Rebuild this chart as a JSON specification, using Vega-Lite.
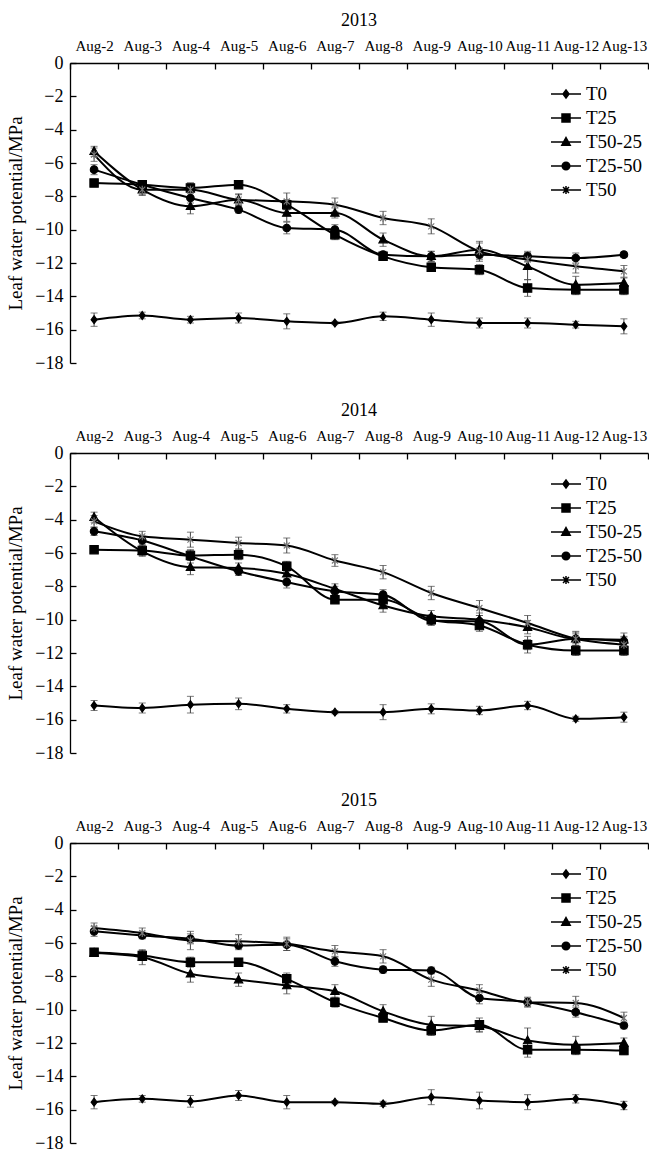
{
"$schema": "https://vega.github.io/schema/vega-lite/v6.json",
"padding": {"left": 6, "top": 12, "right": 0, "bottom": 0},
"background": "white",
"datasets": {"d": [
{"year":2013,"date":"Aug-2","series":"T0","value":-15.4,"err":0.4},{"year":2013,"date":"Aug-3","series":"T0","value":-15.15,"err":0.2},{"year":2013,"date":"Aug-4","series":"T0","value":-15.4,"err":0.2},{"year":2013,"date":"Aug-5","series":"T0","value":-15.3,"err":0.3},{"year":2013,"date":"Aug-6","series":"T0","value":-15.5,"err":0.45},{"year":2013,"date":"Aug-7","series":"T0","value":-15.6,"err":0.1},{"year":2013,"date":"Aug-8","series":"T0","value":-15.2,"err":0.25},{"year":2013,"date":"Aug-9","series":"T0","value":-15.4,"err":0.4},{"year":2013,"date":"Aug-10","series":"T0","value":-15.6,"err":0.3},{"year":2013,"date":"Aug-11","series":"T0","value":-15.6,"err":0.3},{"year":2013,"date":"Aug-12","series":"T0","value":-15.7,"err":0.2},{"year":2013,"date":"Aug-13","series":"T0","value":-15.8,"err":0.45},
{"year":2013,"date":"Aug-2","series":"T25","value":-7.2,"err":0.15},{"year":2013,"date":"Aug-3","series":"T25","value":-7.3,"err":0.25},{"year":2013,"date":"Aug-4","series":"T25","value":-7.5,"err":0.3},{"year":2013,"date":"Aug-5","series":"T25","value":-7.3,"err":0.2},{"year":2013,"date":"Aug-6","series":"T25","value":-8.5,"err":0.3},{"year":2013,"date":"Aug-7","series":"T25","value":-10.3,"err":0.3},{"year":2013,"date":"Aug-8","series":"T25","value":-11.6,"err":0.2},{"year":2013,"date":"Aug-9","series":"T25","value":-12.25,"err":0.25},{"year":2013,"date":"Aug-10","series":"T25","value":-12.4,"err":0.3},{"year":2013,"date":"Aug-11","series":"T25","value":-13.5,"err":0.5},{"year":2013,"date":"Aug-12","series":"T25","value":-13.6,"err":0.3},{"year":2013,"date":"Aug-13","series":"T25","value":-13.6,"err":0.3},
{"year":2013,"date":"Aug-2","series":"T50-25","value":-5.3,"err":0.3},{"year":2013,"date":"Aug-3","series":"T50-25","value":-7.6,"err":0.3},{"year":2013,"date":"Aug-4","series":"T50-25","value":-8.6,"err":0.45},{"year":2013,"date":"Aug-5","series":"T50-25","value":-8.2,"err":0.3},{"year":2013,"date":"Aug-6","series":"T50-25","value":-9.0,"err":0.5},{"year":2013,"date":"Aug-7","series":"T50-25","value":-9.0,"err":0.3},{"year":2013,"date":"Aug-8","series":"T50-25","value":-10.6,"err":0.4},{"year":2013,"date":"Aug-9","series":"T50-25","value":-11.6,"err":0.3},{"year":2013,"date":"Aug-10","series":"T50-25","value":-11.2,"err":0.5},{"year":2013,"date":"Aug-11","series":"T50-25","value":-12.2,"err":0.8},{"year":2013,"date":"Aug-12","series":"T50-25","value":-13.3,"err":0.5},{"year":2013,"date":"Aug-13","series":"T50-25","value":-13.2,"err":0.3},
{"year":2013,"date":"Aug-2","series":"T25-50","value":-6.4,"err":0.3},{"year":2013,"date":"Aug-3","series":"T25-50","value":-7.3,"err":0.25},{"year":2013,"date":"Aug-4","series":"T25-50","value":-8.1,"err":0.3},{"year":2013,"date":"Aug-5","series":"T25-50","value":-8.8,"err":0.2},{"year":2013,"date":"Aug-6","series":"T25-50","value":-9.9,"err":0.35},{"year":2013,"date":"Aug-7","series":"T25-50","value":-10.0,"err":0.3},{"year":2013,"date":"Aug-8","series":"T25-50","value":-11.5,"err":0.2},{"year":2013,"date":"Aug-9","series":"T25-50","value":-11.6,"err":0.3},{"year":2013,"date":"Aug-10","series":"T25-50","value":-11.5,"err":0.4},{"year":2013,"date":"Aug-11","series":"T25-50","value":-11.6,"err":0.3},{"year":2013,"date":"Aug-12","series":"T25-50","value":-11.7,"err":0.3},{"year":2013,"date":"Aug-13","series":"T25-50","value":-11.5,"err":0.15},
{"year":2013,"date":"Aug-2","series":"T50","value":-5.5,"err":0.4},{"year":2013,"date":"Aug-3","series":"T50","value":-7.6,"err":0.35},{"year":2013,"date":"Aug-4","series":"T50","value":-7.6,"err":0.4},{"year":2013,"date":"Aug-5","series":"T50","value":-8.2,"err":0.35},{"year":2013,"date":"Aug-6","series":"T50","value":-8.3,"err":0.5},{"year":2013,"date":"Aug-7","series":"T50","value":-8.5,"err":0.4},{"year":2013,"date":"Aug-8","series":"T50","value":-9.3,"err":0.4},{"year":2013,"date":"Aug-9","series":"T50","value":-9.8,"err":0.45},{"year":2013,"date":"Aug-10","series":"T50","value":-11.3,"err":0.5},{"year":2013,"date":"Aug-11","series":"T50","value":-11.8,"err":0.4},{"year":2013,"date":"Aug-12","series":"T50","value":-12.2,"err":0.4},{"year":2013,"date":"Aug-13","series":"T50","value":-12.5,"err":0.35},
{"year":2014,"date":"Aug-2","series":"T0","value":-15.15,"err":0.3},{"year":2014,"date":"Aug-3","series":"T0","value":-15.3,"err":0.3},{"year":2014,"date":"Aug-4","series":"T0","value":-15.1,"err":0.5},{"year":2014,"date":"Aug-5","series":"T0","value":-15.05,"err":0.35},{"year":2014,"date":"Aug-6","series":"T0","value":-15.35,"err":0.25},{"year":2014,"date":"Aug-7","series":"T0","value":-15.55,"err":0.1},{"year":2014,"date":"Aug-8","series":"T0","value":-15.55,"err":0.45},{"year":2014,"date":"Aug-9","series":"T0","value":-15.35,"err":0.3},{"year":2014,"date":"Aug-10","series":"T0","value":-15.45,"err":0.25},{"year":2014,"date":"Aug-11","series":"T0","value":-15.15,"err":0.25},{"year":2014,"date":"Aug-12","series":"T0","value":-15.95,"err":0.15},{"year":2014,"date":"Aug-13","series":"T0","value":-15.85,"err":0.3},
{"year":2014,"date":"Aug-2","series":"T25","value":-5.8,"err":0.15},{"year":2014,"date":"Aug-3","series":"T25","value":-5.85,"err":0.3},{"year":2014,"date":"Aug-4","series":"T25","value":-6.15,"err":0.3},{"year":2014,"date":"Aug-5","series":"T25","value":-6.1,"err":0.3},{"year":2014,"date":"Aug-6","series":"T25","value":-6.8,"err":0.3},{"year":2014,"date":"Aug-7","series":"T25","value":-8.8,"err":0.2},{"year":2014,"date":"Aug-8","series":"T25","value":-8.8,"err":0.35},{"year":2014,"date":"Aug-9","series":"T25","value":-10.0,"err":0.3},{"year":2014,"date":"Aug-10","series":"T25","value":-10.35,"err":0.35},{"year":2014,"date":"Aug-11","series":"T25","value":-11.5,"err":0.5},{"year":2014,"date":"Aug-12","series":"T25","value":-11.85,"err":0.3},{"year":2014,"date":"Aug-13","series":"T25","value":-11.85,"err":0.3},
{"year":2014,"date":"Aug-2","series":"T50-25","value":-3.85,"err":0.3},{"year":2014,"date":"Aug-3","series":"T50-25","value":-5.9,"err":0.3},{"year":2014,"date":"Aug-4","series":"T50-25","value":-6.85,"err":0.45},{"year":2014,"date":"Aug-5","series":"T50-25","value":-6.9,"err":0.3},{"year":2014,"date":"Aug-6","series":"T50-25","value":-7.25,"err":0.3},{"year":2014,"date":"Aug-7","series":"T50-25","value":-8.15,"err":0.3},{"year":2014,"date":"Aug-8","series":"T50-25","value":-9.15,"err":0.4},{"year":2014,"date":"Aug-9","series":"T50-25","value":-9.8,"err":0.35},{"year":2014,"date":"Aug-10","series":"T50-25","value":-10.0,"err":0.4},{"year":2014,"date":"Aug-11","series":"T50-25","value":-10.45,"err":0.4},{"year":2014,"date":"Aug-12","series":"T50-25","value":-11.15,"err":0.4},{"year":2014,"date":"Aug-13","series":"T50-25","value":-11.2,"err":0.4},
{"year":2014,"date":"Aug-2","series":"T25-50","value":-4.7,"err":0.25},{"year":2014,"date":"Aug-3","series":"T25-50","value":-5.25,"err":0.25},{"year":2014,"date":"Aug-4","series":"T25-50","value":-6.2,"err":0.4},{"year":2014,"date":"Aug-5","series":"T25-50","value":-7.1,"err":0.25},{"year":2014,"date":"Aug-6","series":"T25-50","value":-7.75,"err":0.35},{"year":2014,"date":"Aug-7","series":"T25-50","value":-8.3,"err":0.3},{"year":2014,"date":"Aug-8","series":"T25-50","value":-8.5,"err":0.3},{"year":2014,"date":"Aug-9","series":"T25-50","value":-10.05,"err":0.3},{"year":2014,"date":"Aug-10","series":"T25-50","value":-10.1,"err":0.35},{"year":2014,"date":"Aug-11","series":"T25-50","value":-11.5,"err":0.3},{"year":2014,"date":"Aug-12","series":"T25-50","value":-11.15,"err":0.3},{"year":2014,"date":"Aug-13","series":"T25-50","value":-11.3,"err":0.3},
{"year":2014,"date":"Aug-2","series":"T50","value":-4.1,"err":0.35},{"year":2014,"date":"Aug-3","series":"T50","value":-5.0,"err":0.3},{"year":2014,"date":"Aug-4","series":"T50","value":-5.2,"err":0.45},{"year":2014,"date":"Aug-5","series":"T50","value":-5.4,"err":0.35},{"year":2014,"date":"Aug-6","series":"T50","value":-5.55,"err":0.45},{"year":2014,"date":"Aug-7","series":"T50","value":-6.45,"err":0.35},{"year":2014,"date":"Aug-8","series":"T50","value":-7.15,"err":0.4},{"year":2014,"date":"Aug-9","series":"T50","value":-8.4,"err":0.4},{"year":2014,"date":"Aug-10","series":"T50","value":-9.3,"err":0.45},{"year":2014,"date":"Aug-11","series":"T50","value":-10.2,"err":0.45},{"year":2014,"date":"Aug-12","series":"T50","value":-11.15,"err":0.45},{"year":2014,"date":"Aug-13","series":"T50","value":-11.5,"err":0.45},
{"year":2015,"date":"Aug-2","series":"T0","value":-15.55,"err":0.4},{"year":2015,"date":"Aug-3","series":"T0","value":-15.35,"err":0.2},{"year":2015,"date":"Aug-4","series":"T0","value":-15.5,"err":0.35},{"year":2015,"date":"Aug-5","series":"T0","value":-15.15,"err":0.3},{"year":2015,"date":"Aug-6","series":"T0","value":-15.55,"err":0.4},{"year":2015,"date":"Aug-7","series":"T0","value":-15.55,"err":0.1},{"year":2015,"date":"Aug-8","series":"T0","value":-15.65,"err":0.15},{"year":2015,"date":"Aug-9","series":"T0","value":-15.25,"err":0.45},{"year":2015,"date":"Aug-10","series":"T0","value":-15.45,"err":0.5},{"year":2015,"date":"Aug-11","series":"T0","value":-15.55,"err":0.45},{"year":2015,"date":"Aug-12","series":"T0","value":-15.35,"err":0.25},{"year":2015,"date":"Aug-13","series":"T0","value":-15.75,"err":0.25},
{"year":2015,"date":"Aug-2","series":"T25","value":-6.55,"err":0.2},{"year":2015,"date":"Aug-3","series":"T25","value":-6.75,"err":0.3},{"year":2015,"date":"Aug-4","series":"T25","value":-7.15,"err":0.3},{"year":2015,"date":"Aug-5","series":"T25","value":-7.15,"err":0.2},{"year":2015,"date":"Aug-6","series":"T25","value":-8.15,"err":0.35},{"year":2015,"date":"Aug-7","series":"T25","value":-9.55,"err":0.3},{"year":2015,"date":"Aug-8","series":"T25","value":-10.5,"err":0.2},{"year":2015,"date":"Aug-9","series":"T25","value":-11.25,"err":0.3},{"year":2015,"date":"Aug-10","series":"T25","value":-10.9,"err":0.4},{"year":2015,"date":"Aug-11","series":"T25","value":-12.4,"err":0.45},{"year":2015,"date":"Aug-12","series":"T25","value":-12.4,"err":0.3},{"year":2015,"date":"Aug-13","series":"T25","value":-12.45,"err":0.25},
{"year":2015,"date":"Aug-2","series":"T50-25","value":-6.6,"err":0.2},{"year":2015,"date":"Aug-3","series":"T50-25","value":-6.85,"err":0.45},{"year":2015,"date":"Aug-4","series":"T50-25","value":-7.85,"err":0.5},{"year":2015,"date":"Aug-5","series":"T50-25","value":-8.2,"err":0.4},{"year":2015,"date":"Aug-6","series":"T50-25","value":-8.55,"err":0.5},{"year":2015,"date":"Aug-7","series":"T50-25","value":-8.9,"err":0.4},{"year":2015,"date":"Aug-8","series":"T50-25","value":-10.1,"err":0.4},{"year":2015,"date":"Aug-9","series":"T50-25","value":-10.9,"err":0.5},{"year":2015,"date":"Aug-10","series":"T50-25","value":-11.0,"err":0.35},{"year":2015,"date":"Aug-11","series":"T50-25","value":-11.85,"err":0.75},{"year":2015,"date":"Aug-12","series":"T50-25","value":-12.1,"err":0.5},{"year":2015,"date":"Aug-13","series":"T50-25","value":-12.0,"err":0.3},
{"year":2015,"date":"Aug-2","series":"T25-50","value":-5.3,"err":0.3},{"year":2015,"date":"Aug-3","series":"T25-50","value":-5.55,"err":0.2},{"year":2015,"date":"Aug-4","series":"T25-50","value":-5.75,"err":0.3},{"year":2015,"date":"Aug-5","series":"T25-50","value":-6.15,"err":0.25},{"year":2015,"date":"Aug-6","series":"T25-50","value":-6.1,"err":0.35},{"year":2015,"date":"Aug-7","series":"T25-50","value":-7.1,"err":0.3},{"year":2015,"date":"Aug-8","series":"T25-50","value":-7.6,"err":0.2},{"year":2015,"date":"Aug-9","series":"T25-50","value":-7.65,"err":0.2},{"year":2015,"date":"Aug-10","series":"T25-50","value":-9.3,"err":0.35},{"year":2015,"date":"Aug-11","series":"T25-50","value":-9.55,"err":0.3},{"year":2015,"date":"Aug-12","series":"T25-50","value":-10.15,"err":0.3},{"year":2015,"date":"Aug-13","series":"T25-50","value":-10.95,"err":0.2},
{"year":2015,"date":"Aug-2","series":"T50","value":-5.1,"err":0.3},{"year":2015,"date":"Aug-3","series":"T50","value":-5.4,"err":0.3},{"year":2015,"date":"Aug-4","series":"T50","value":-5.85,"err":0.55},{"year":2015,"date":"Aug-5","series":"T50","value":-5.9,"err":0.4},{"year":2015,"date":"Aug-6","series":"T50","value":-6.05,"err":0.4},{"year":2015,"date":"Aug-7","series":"T50","value":-6.5,"err":0.35},{"year":2015,"date":"Aug-8","series":"T50","value":-6.8,"err":0.4},{"year":2015,"date":"Aug-9","series":"T50","value":-8.2,"err":0.4},{"year":2015,"date":"Aug-10","series":"T50","value":-8.85,"err":0.35},{"year":2015,"date":"Aug-11","series":"T50","value":-9.55,"err":0.25},{"year":2015,"date":"Aug-12","series":"T50","value":-9.6,"err":0.4},{"year":2015,"date":"Aug-13","series":"T50","value":-10.5,"err":0.35}
]},
"spacing": 30,
"resolve": {"scale": {"shape": "independent", "x": "independent", "y": "independent"}, "legend": {"shape": "independent"}},
"vconcat": [
{"title": "2013", "width": 578, "height": 300, "data": {"name": "d"}, "transform": [{"filter": "datum.year == 2013"}],
 "resolve": {"scale": {"shape": "independent"}},
 "encoding": {
  "x": {"field": "date", "type": "nominal", "sort": ["Aug-2","Aug-3","Aug-4","Aug-5","Aug-6","Aug-7","Aug-8","Aug-9","Aug-10","Aug-11","Aug-12","Aug-13"], "scale": {"type": "band", "paddingInner": 0, "paddingOuter": 0}, "axis": {"orient": "top", "title": null, "tickBand": "extent", "labelAngle": 0, "labelFontSize": 15, "labelPadding": 16}},
  "y": {"field": "value", "type": "quantitative", "scale": {"domain": [-18, 0], "nice": false, "zero": false}, "axis": {"title": "Leaf water potential/MPa", "values": [0,-2,-4,-6,-8,-10,-12,-14,-16,-18], "labelFontSize": 18, "labelPadding": 13, "titleFontSize": 19, "titlePadding": 9, "titleFontWeight": "normal"}}
 },
 "layer": [
  {"mark": {"type": "errorbar", "ticks": {"size": 7, "color": "#444", "thickness": 1}, "rule": {"color": "#444", "strokeWidth": 1}}, "encoding": {"yError": {"field": "err"}, "detail": {"field": "series"}}},
  {"mark": {"type": "line", "interpolate": "monotone", "color": "black", "strokeWidth": 2}, "encoding": {"detail": {"field": "series"}}},
  {"mark": {"type": "point", "filled": true, "fill": "black", "size": 400, "strokeWidth": 1.1, "opacity": 1},
   "encoding": {
    "shape": {"field": "series", "type": "nominal", "legend": null, "scale": {"domain": ["T0","T25","T50-25","T25-50","T50"], "range": ["M0,-0.4L0.3,0L0,0.4L-0.3,0Z","M-0.42,-0.42H0.42V0.42H-0.42Z","M0,-0.45L0.42,0.32H-0.42Z","M-0.38,0A0.38,0.38,0,1,1,0.38,0A0.38,0.38,0,1,1,-0.38,0Z","M-0.3,-0.3L0.3,0.3M-0.3,0.3L0.3,-0.3M0,-0.4V0.4"]}},
    "stroke": {"condition": {"test": "datum.series === 'T50'", "value": "#777"}, "value": "black"}
   }},
  {"transform": [{"filter": "false"}],
   "mark": {"type": "point", "filled": false, "fill": "black", "stroke": "black", "strokeWidth": 1.6, "size": 400, "opacity": 1},
   "encoding": {"shape": {"field": "series", "type": "nominal", "scale": {"domain": ["T0","T25","T50-25","T25-50","T50"], "range": ["M-1.5,0H1.5M0,-0.4L0.3,0L0,0.4L-0.3,0Z","M-1.5,0H1.5M-0.4,-0.4H0.4V0.4H-0.4Z","M-1.5,0H1.5M0,-0.45L0.42,0.32H-0.42Z","M-1.5,0H1.5M-0.38,0A0.38,0.38,0,1,1,0.38,0A0.38,0.38,0,1,1,-0.38,0Z","M-1.5,0H1.5M-0.3,-0.3L0.3,0.3M-0.3,0.3L0.3,-0.3M0,-0.4V0.4"]}, "legend": {"orient": "none", "legendX": 485, "legendY": 20}}}}
 ]},
{"title": "2014", "width": 578, "height": 300, "data": {"name": "d"}, "transform": [{"filter": "datum.year == 2014"}],
 "resolve": {"scale": {"shape": "independent"}},
 "encoding": {
  "x": {"field": "date", "type": "nominal", "sort": ["Aug-2","Aug-3","Aug-4","Aug-5","Aug-6","Aug-7","Aug-8","Aug-9","Aug-10","Aug-11","Aug-12","Aug-13"], "scale": {"type": "band", "paddingInner": 0, "paddingOuter": 0}, "axis": {"orient": "top", "title": null, "tickBand": "extent", "labelAngle": 0, "labelFontSize": 15, "labelPadding": 16}},
  "y": {"field": "value", "type": "quantitative", "scale": {"domain": [-18, 0], "nice": false, "zero": false}, "axis": {"title": "Leaf water potential/MPa", "values": [0,-2,-4,-6,-8,-10,-12,-14,-16,-18], "labelFontSize": 18, "labelPadding": 13, "titleFontSize": 19, "titlePadding": 9, "titleFontWeight": "normal"}}
 },
 "layer": [
  {"mark": {"type": "errorbar", "ticks": {"size": 7, "color": "#444", "thickness": 1}, "rule": {"color": "#444", "strokeWidth": 1}}, "encoding": {"yError": {"field": "err"}, "detail": {"field": "series"}}},
  {"mark": {"type": "line", "interpolate": "monotone", "color": "black", "strokeWidth": 2}, "encoding": {"detail": {"field": "series"}}},
  {"mark": {"type": "point", "filled": true, "fill": "black", "size": 400, "strokeWidth": 1.1, "opacity": 1},
   "encoding": {
    "shape": {"field": "series", "type": "nominal", "legend": null, "scale": {"domain": ["T0","T25","T50-25","T25-50","T50"], "range": ["M0,-0.4L0.3,0L0,0.4L-0.3,0Z","M-0.42,-0.42H0.42V0.42H-0.42Z","M0,-0.45L0.42,0.32H-0.42Z","M-0.38,0A0.38,0.38,0,1,1,0.38,0A0.38,0.38,0,1,1,-0.38,0Z","M-0.3,-0.3L0.3,0.3M-0.3,0.3L0.3,-0.3M0,-0.4V0.4"]}},
    "stroke": {"condition": {"test": "datum.series === 'T50'", "value": "#777"}, "value": "black"}
   }},
  {"transform": [{"filter": "false"}],
   "mark": {"type": "point", "filled": false, "fill": "black", "stroke": "black", "strokeWidth": 1.6, "size": 400, "opacity": 1},
   "encoding": {"shape": {"field": "series", "type": "nominal", "scale": {"domain": ["T0","T25","T50-25","T25-50","T50"], "range": ["M-1.5,0H1.5M0,-0.4L0.3,0L0,0.4L-0.3,0Z","M-1.5,0H1.5M-0.4,-0.4H0.4V0.4H-0.4Z","M-1.5,0H1.5M0,-0.45L0.42,0.32H-0.42Z","M-1.5,0H1.5M-0.38,0A0.38,0.38,0,1,1,0.38,0A0.38,0.38,0,1,1,-0.38,0Z","M-1.5,0H1.5M-0.3,-0.3L0.3,0.3M-0.3,0.3L0.3,-0.3M0,-0.4V0.4"]}, "legend": {"orient": "none", "legendX": 485, "legendY": 20}}}}
 ]},
{"title": "2015", "width": 578, "height": 300, "data": {"name": "d"}, "transform": [{"filter": "datum.year == 2015"}],
 "resolve": {"scale": {"shape": "independent"}},
 "encoding": {
  "x": {"field": "date", "type": "nominal", "sort": ["Aug-2","Aug-3","Aug-4","Aug-5","Aug-6","Aug-7","Aug-8","Aug-9","Aug-10","Aug-11","Aug-12","Aug-13"], "scale": {"type": "band", "paddingInner": 0, "paddingOuter": 0}, "axis": {"orient": "top", "title": null, "tickBand": "extent", "labelAngle": 0, "labelFontSize": 15, "labelPadding": 16}},
  "y": {"field": "value", "type": "quantitative", "scale": {"domain": [-18, 0], "nice": false, "zero": false}, "axis": {"title": "Leaf water potential/MPa", "values": [0,-2,-4,-6,-8,-10,-12,-14,-16,-18], "labelFontSize": 18, "labelPadding": 13, "titleFontSize": 19, "titlePadding": 9, "titleFontWeight": "normal"}}
 },
 "layer": [
  {"mark": {"type": "errorbar", "ticks": {"size": 7, "color": "#444", "thickness": 1}, "rule": {"color": "#444", "strokeWidth": 1}}, "encoding": {"yError": {"field": "err"}, "detail": {"field": "series"}}},
  {"mark": {"type": "line", "interpolate": "monotone", "color": "black", "strokeWidth": 2}, "encoding": {"detail": {"field": "series"}}},
  {"mark": {"type": "point", "filled": true, "fill": "black", "size": 400, "strokeWidth": 1.1, "opacity": 1},
   "encoding": {
    "shape": {"field": "series", "type": "nominal", "legend": null, "scale": {"domain": ["T0","T25","T50-25","T25-50","T50"], "range": ["M0,-0.4L0.3,0L0,0.4L-0.3,0Z","M-0.42,-0.42H0.42V0.42H-0.42Z","M0,-0.45L0.42,0.32H-0.42Z","M-0.38,0A0.38,0.38,0,1,1,0.38,0A0.38,0.38,0,1,1,-0.38,0Z","M-0.3,-0.3L0.3,0.3M-0.3,0.3L0.3,-0.3M0,-0.4V0.4"]}},
    "stroke": {"condition": {"test": "datum.series === 'T50'", "value": "#777"}, "value": "black"}
   }},
  {"transform": [{"filter": "false"}],
   "mark": {"type": "point", "filled": false, "fill": "black", "stroke": "black", "strokeWidth": 1.6, "size": 400, "opacity": 1},
   "encoding": {"shape": {"field": "series", "type": "nominal", "scale": {"domain": ["T0","T25","T50-25","T25-50","T50"], "range": ["M-1.5,0H1.5M0,-0.4L0.3,0L0,0.4L-0.3,0Z","M-1.5,0H1.5M-0.4,-0.4H0.4V0.4H-0.4Z","M-1.5,0H1.5M0,-0.45L0.42,0.32H-0.42Z","M-1.5,0H1.5M-0.38,0A0.38,0.38,0,1,1,0.38,0A0.38,0.38,0,1,1,-0.38,0Z","M-1.5,0H1.5M-0.3,-0.3L0.3,0.3M-0.3,0.3L0.3,-0.3M0,-0.4V0.4"]}, "legend": {"orient": "none", "legendX": 485, "legendY": 20}}}}
 ]}
],
"config": {
 "view": {"stroke": null},
 "font": "Liberation Serif",
 "axis": {"labelFont": "Liberation Serif", "titleFont": "Liberation Serif", "labelColor": "black", "titleColor": "black", "domainColor": "black", "tickColor": "black", "grid": false, "tickSize": -6, "domainWidth": 1.3, "tickWidth": 1.3, "labelFlush": false, "labelOverlap": false},
 "legend": {"title": null, "labelFont": "Liberation Serif", "labelFontSize": 19, "labelColor": "black", "symbolSize": 400, "labelOffset": 9, "rowPadding": 3, "padding": 0},
 "title": {"font": "Liberation Serif", "fontSize": 18, "fontWeight": "normal", "color": "black", "offset": 8, "anchor": "middle"}
}
}
